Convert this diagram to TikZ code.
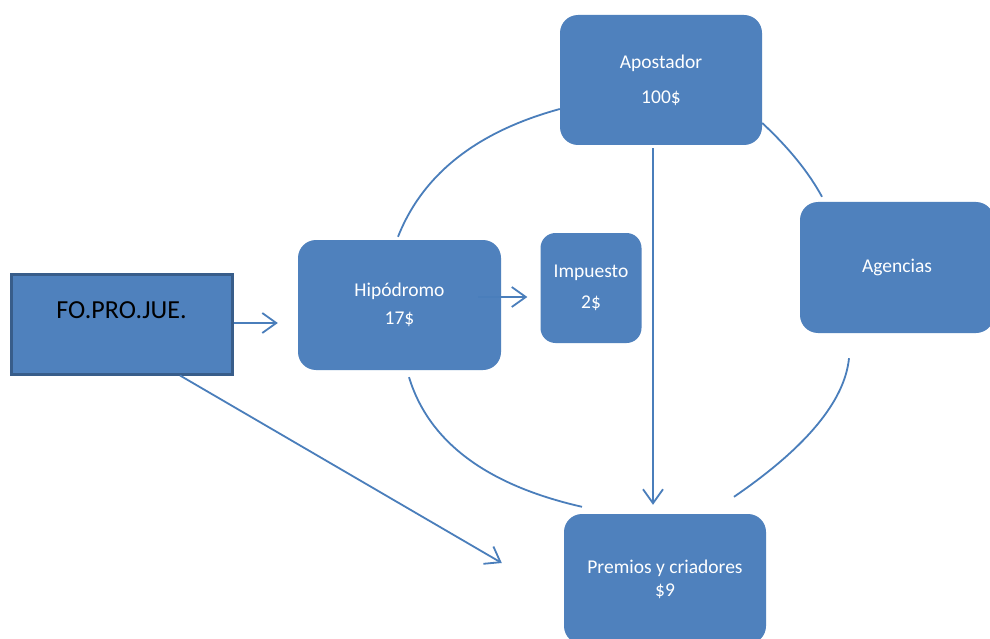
\documentclass[tikz,border=0pt]{standalone}
\usepackage{fontspec}
\setmainfont{Carlito}
\usetikzlibrary{arrows.meta,calc}
\definecolor{boxblue}{HTML}{4F81BD}
\definecolor{lineblue}{HTML}{4A7EBB}
\definecolor{borderblue}{HTML}{385D8A}
\begin{document}
\begin{tikzpicture}[x=1pt,y=-1pt,
  blockbox/.style={fill=boxblue, draw=none, rounded corners=18pt, text=white, align=center,
    font=\fontsize{19.5}{23}\selectfont, inner sep=0pt},
  link/.style={draw=lineblue, line width=1.8pt},
  arr/.style={link, -{Straight Barb[length=14pt,width=20pt,line width=1.8pt]}}
]
\clip (0,0) rectangle (990,639);
\fill[white] (0,0) rectangle (990,639);

\node[blockbox, minimum width=202pt, minimum height=130pt] (apo) at (661,80) {Apostador\\[12pt]100\$};
\node[blockbox, minimum width=203pt, minimum height=130pt] (hip) at (399.5,305) {Hipódromo\\[5pt]17\$};
\node[blockbox, rounded corners=15pt, minimum width=101pt, minimum height=110pt] (imp) at (591,288) {Impuesto\\[8pt]2\$};
\node[blockbox, minimum width=194pt, minimum height=131pt] (age) at (897,267.5) {Agencias};
\node[blockbox, minimum width=202pt, minimum height=130pt] (prem) at (665,579) {Premios y criadores\\\$9};
\node[draw=borderblue, line width=3pt, fill=boxblue, minimum width=221pt, minimum height=100pt, inner sep=0pt] (fo) at (121.5,324) {};
\node[font=\fontsize{26}{30}\selectfont, text=black, inner sep=0pt] (fotext) at ($(fo.center)+(0,-14)$) {FO.PRO.JUE.};

% circle arcs
\draw[link] ([shift={(-1.5,-3)}]hip.north) .. controls (422.7,174.3) and (476.7,131.7) .. ([shift={(0,29)}]apo.west);
\draw[link] ([shift={(0,43)}]apo.east) .. controls (788.7,147.7) and (808.7,172.3) .. ([shift={(-75,-5)}]age.north);
\draw[link] ([shift={(-48,25)}]age.south) .. controls (844.7,401) and (806.3,447.3) .. ([shift={(69,-17)}]prem.north);
\draw[link] ([shift={(9.5,7)}]hip.south) .. controls (428.7,441.7) and (486.3,485) .. ([shift={(-83,-7)}]prem.north);

% arrows
\draw[arr] ([shift={(0,-1)}]fo.east) -- ([shift={(-20,18)}]hip.west);
\draw[arr] ([shift={(-23,-8)}]hip.east) -- ([shift={(-13,9)}]imp.west);
\draw[arr] ([shift={(-8,3)}]apo.south) -- ([shift={(-12,-9)}]prem.north);
\draw[arr] ([shift={(58.5,0)}]fo.south) -- ([shift={(-62,-16)}]prem.west);
\end{tikzpicture}
\end{document}
